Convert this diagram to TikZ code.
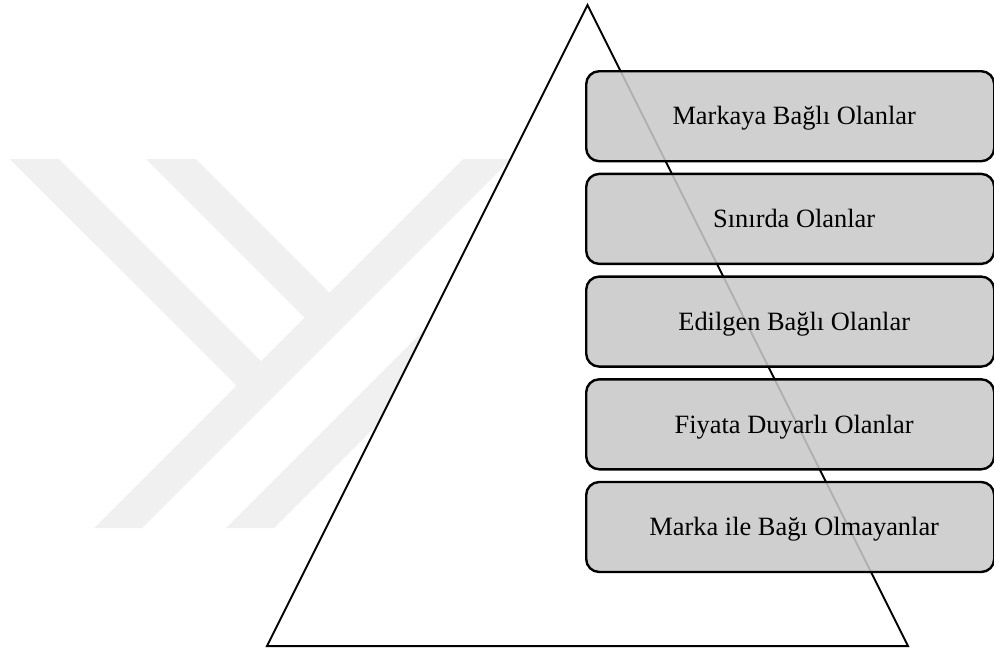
\documentclass[tikz,border=0pt]{standalone}
\usepackage{fontspec}
\setmainfont{Liberation Serif}
\begin{document}
\begin{tikzpicture}[x=1pt,y=-1pt,
  mark band/.style={fill=black!6, draw=none},
  pyramid/.style={draw=black, line width=2pt, fill=white, line join=miter},
  tier/.style={draw=black, line width=2.4pt, fill=black!21, fill opacity=0.875,
    rounded corners=13pt, minimum width=408pt, minimum height=90pt,
    inner sep=0pt, anchor=north west},
  tierlabel/.style={font=\fontsize{26.4}{30}\selectfont, text height=17.5pt,
    text depth=0pt, inner sep=0pt, xshift=4pt}]
  \useasboundingbox (0,0) rectangle (994,651);

  % faint watermark bands behind the pyramid
  \fill[mark band] (9.6,159) -- (59,159) -- (261,361) -- (304.5,317.5)
    -- (146,159) -- (196,159) -- (329.5,292.5) -- (463,159) -- (511,159)
    -- (142,528) -- (94,528) -- (236.5,385.5) -- cycle;
  \fill[mark band] (226,528) -- (274,528) -- (552,250) -- (504,250) -- cycle;

  % pyramid outline
  \coordinate (apex) at (587.5,5);
  \coordinate (bl) at (267,646);
  \coordinate (br) at (908,646);
  \draw[pyramid] (apex) -- (bl) -- (br) -- cycle;

  % tiers
  \node[tier] (b1) at (585,70) {};
  \node[tier] (b2) at (585,172.7) {};
  \node[tier] (b3) at (585,275.4) {};
  \node[tier] (b4) at (585,378.1) {};
  \node[tier] (b5) at (585,480.8) {};

  \node[tierlabel] (t1) at (b1.center) {Markaya Bağlı Olanlar};
  \node[tierlabel] (t2) at (b2.center) {Sınırda Olanlar};
  \node[tierlabel] (t3) at (b3.center) {Edilgen Bağlı Olanlar};
  \node[tierlabel] (t4) at (b4.center) {Fiyata Duyarlı Olanlar};
  \node[tierlabel] (t5) at (b5.center) {Marka ile Bağı Olmayanlar};
\end{tikzpicture}
\end{document}
